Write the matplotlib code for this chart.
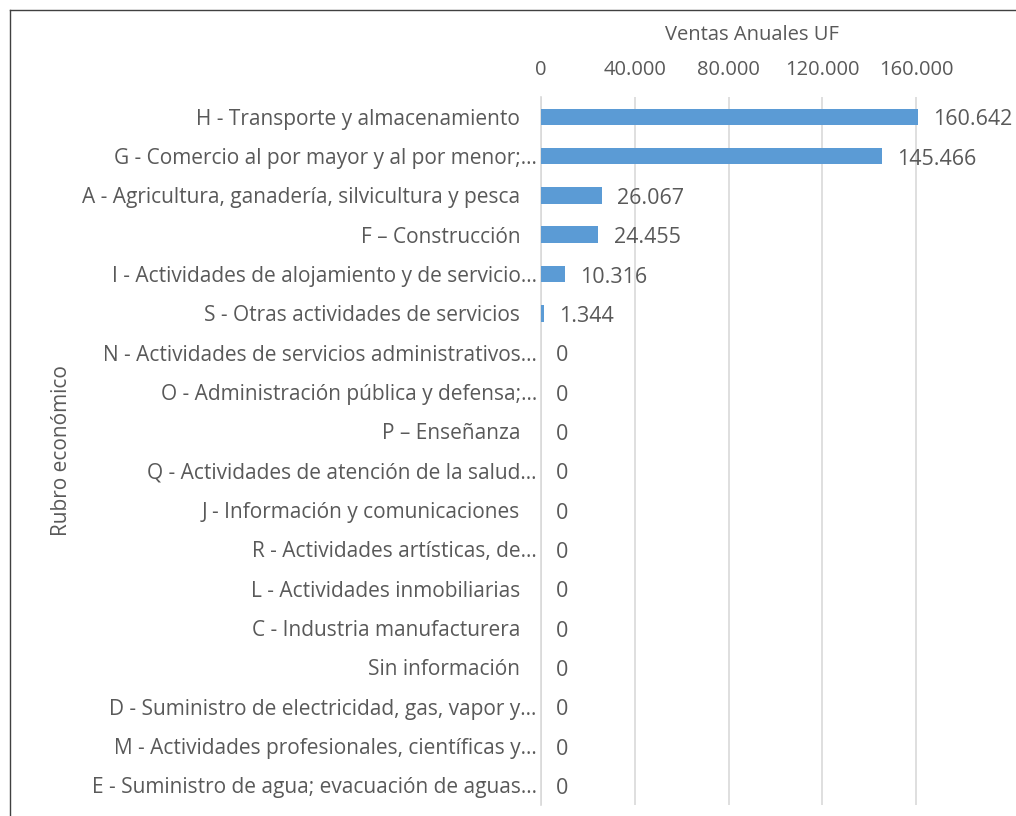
import matplotlib.pyplot as plt
from matplotlib.lines import Line2D

# datos
rubros = [
    "H - Transporte y almacenamiento",
    "G - Comercio al por mayor y al por menor;…",
    "A - Agricultura, ganadería, silvicultura y pesca",
    "F – Construcción",
    "I - Actividades de alojamiento y de servicio…",
    "S - Otras actividades de servicios",
    "N - Actividades de servicios administrativos…",
    "O - Administración pública y defensa;…",
    "P – Enseñanza",
    "Q - Actividades de atención de la salud…",
    "J - Información y comunicaciones",
    "R - Actividades artísticas, de…",
    "L - Actividades inmobiliarias",
    "C - Industria manufacturera",
    "Sin información",
    "D - Suministro de electricidad, gas, vapor y…",
    "M - Actividades profesionales, científicas y…",
    "E - Suministro de agua; evacuación de aguas…",
]
ventas = [160642, 145466, 26067, 24455, 10316, 1344,
          0, 0, 0, 0, 0, 0, 0, 0, 0, 0, 0, 0]
ticks = [0, 40000, 80000, 120000, 160000]

gris = '#595959'
azul = '#5B9BD5'
plt.rcParams['font.family'] = ['Open Sans', 'DejaVu Sans']

fig = plt.figure(figsize=(10.16, 8.16), dpi=100)
ax = fig.add_axes([0.5325, 0.0135, 0.4155, 0.8675])

y = list(range(len(rubros)))
ax.barh(y, ventas, height=0.42, color=azul, zorder=3)

ax.set_xlim(0, 180000)
ax.set_ylim(len(rubros) - 0.5, -0.5)
ax.set_xticks(ticks)
ax.set_xticklabels([f"{t:,}".replace(',', '.') for t in ticks], fontsize=14.5, color=gris)
ax.xaxis.tick_top()
ax.xaxis.set_label_position('top')
ax.set_xlabel('Ventas Anuales UF', fontsize=14.5, color=gris, labelpad=15)

ax.set_yticks(y)
ax.set_yticklabels(rubros, fontsize=15, color=gris)
ax.set_ylabel('Rubro económico', fontsize=15, color=gris)
ax.yaxis.set_label_coords(-1.11, 0.5)
# etiquetas truncadas quedan más cerca del eje
for tick, nombre in zip(ax.yaxis.get_major_ticks(), rubros):
    tick.set_pad(3 if nombre.endswith('…') else 15)

ax.tick_params(length=0)
ax.xaxis.set_tick_params(pad=12)
ax.grid(axis='x', color='#D9D9D9', linewidth=1.2, zorder=0)
for s in ['top', 'right', 'bottom']:
    ax.spines[s].set_visible(False)
ax.spines['left'].set_color('#D9D9D9')
ax.spines['left'].set_linewidth(1.2)

# valores
for yi, v in zip(y, ventas):
    ax.text(v + 6500, yi + 0.08, f"{v:,}".replace(',', '.'), va='center', ha='left',
            fontsize=15.5, color=gris)

# marco
fig.add_artist(Line2D([0.0098, 0.0098], [0, 0.988], color='#404040', linewidth=1))
fig.add_artist(Line2D([0.0098, 1], [0.988, 0.988], color='#404040', linewidth=1))

fig.savefig('out.png', dpi=100)
